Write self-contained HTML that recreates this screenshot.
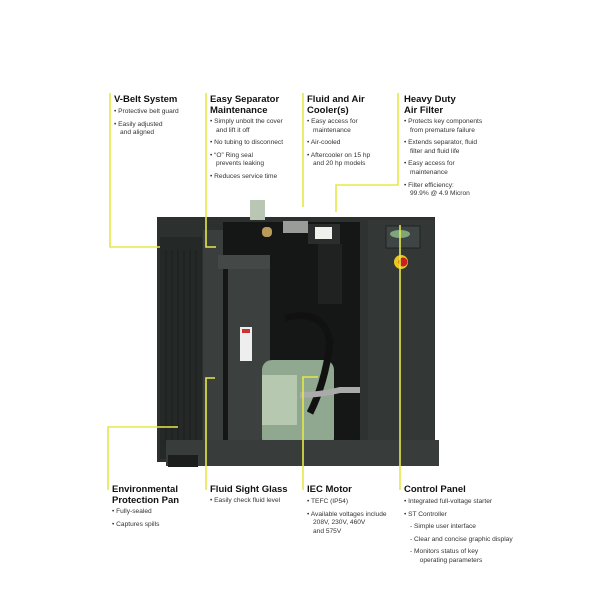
<!DOCTYPE html>
<html><head><meta charset="utf-8"><style>
body{margin:0;width:600px;height:600px;background:#fff;position:relative;overflow:hidden;font-family:"Liberation Sans",sans-serif;color:#222}
.t{position:absolute;font-weight:bold;font-size:9.5px;line-height:11px;color:#111}
.b{position:absolute;font-size:6.6px;line-height:8.6px;color:#333}
.b p{margin:0 0 4px 0;padding-left:6px;text-indent:-6px}
svg{position:absolute;left:0;top:0}
</style></head><body>
<svg width="600" height="600">
<!-- machine -->
<rect x="157" y="217" width="278" height="245" fill="#2c302f"/>
<rect x="160" y="237" width="42" height="222" fill="#242827"/>
<g stroke="#1b1e1d" stroke-width="1">
<line x1="166" y1="250" x2="166" y2="445"/><line x1="172" y1="250" x2="172" y2="445"/><line x1="178" y1="250" x2="178" y2="445"/><line x1="184" y1="250" x2="184" y2="445"/><line x1="190" y1="250" x2="190" y2="445"/><line x1="196" y1="250" x2="196" y2="445"/>
</g>
<rect x="203" y="230" width="20" height="225" fill="#3a3f3d"/>
<rect x="223" y="222" width="145" height="240" fill="#151716"/>
<rect x="228" y="260" width="42" height="200" fill="#3c4140"/>
<rect x="218" y="255" width="52" height="14" fill="#444948"/>
<rect x="262" y="360" width="72" height="88" fill="#8fa88f" rx="10"/>
<rect x="262" y="375" width="35" height="50" fill="#b6c8b0"/>
<rect x="308" y="224" width="32" height="20" fill="#2a2d2c"/>
<rect x="315" y="227" width="17" height="12" fill="#f0f0ec"/>
<rect x="318" y="244" width="24" height="60" fill="#1f2221"/>
<rect x="283" y="221" width="25" height="12" fill="#9a9c9a"/>
<rect x="250" y="200" width="15" height="20" fill="#b9c6b4"/>
<rect x="262" y="227" width="10" height="10" fill="#b89a5a" rx="4"/>
<rect x="240" y="327" width="12" height="34" fill="#eee"/>
<rect x="242" y="329" width="8" height="4" fill="#c33"/>
<path d="M285 318 q40 -10 45 25 q-5 40 -20 70" stroke="#111" stroke-width="7" fill="none"/>
<path d="M300 395 q20 0 40 -5 l28 0" stroke="#aaa" stroke-width="6" fill="none"/>
<rect x="360" y="218" width="75" height="244" fill="#2e3231"/>
<rect x="368" y="220" width="66" height="238" fill="#333736"/>
<rect x="386" y="226" width="34" height="22" fill="#3e4645" stroke="#222"/>
<ellipse cx="400" cy="234" rx="10" ry="4" fill="#7fa67a"/>
<circle cx="401" cy="262" r="7" fill="#e8c81c"/>
<circle cx="403" cy="262" r="4.5" fill="#c8201c"/>
<rect x="166" y="440" width="273" height="26" fill="#383c3b"/>
<rect x="168" y="455" width="30" height="12" fill="#1c1e1d"/>
<!-- yellow leaders -->
<g stroke="#e6e84a" stroke-width="1.6" fill="none">
<path d="M110 93 V247 H160"/>
<path d="M206 93 V247 H216"/>
<path d="M303 93 V207"/>
<path d="M398 93 V185 H336 V212"/>
<path d="M108 490 V427 H178"/>
<path d="M206 490 V378 H215"/>
<path d="M303 490 V377 H318"/>
<path d="M400 490 V225"/>
</g>
</svg>
<div class="t" style="left:114px;top:94px">V-Belt System</div>
<div class="b" style="left:114px;top:108px"><p>• Protective belt guard</p><p>• Easily adjusted<br>and aligned</p></div>
<div class="t" style="left:210px;top:94px">Easy Separator<br>Maintenance</div>
<div class="b" style="left:210px;top:118px"><p>• Simply unbolt the cover<br>and lift it off</p><p>• No tubing to disconnect</p><p>• “O” Ring seal<br>prevents leaking</p><p>• Reduces service time</p></div>
<div class="t" style="left:307px;top:94px">Fluid and Air<br>Cooler(s)</div>
<div class="b" style="left:307px;top:118px"><p>• Easy access for<br>maintenance</p><p>• Air-cooled</p><p>• Aftercooler on 15 hp<br>and 20 hp models</p></div>
<div class="t" style="left:404px;top:94px">Heavy Duty<br>Air Filter</div>
<div class="b" style="left:404px;top:118px"><p>• Protects key components<br>from premature failure</p><p>• Extends separator, fluid<br>filter and fluid life</p><p>• Easy access for<br>maintenance</p><p>• Filter efficiency:<br>99.9% @ 4.9 Micron</p></div>
<div class="t" style="left:112px;top:484px">Environmental<br>Protection Pan</div>
<div class="b" style="left:112px;top:508px"><p>• Fully-sealed</p><p>• Captures spills</p></div>
<div class="t" style="left:210px;top:484px">Fluid Sight Glass</div>
<div class="b" style="left:210px;top:497px"><p>• Easily check fluid level</p></div>
<div class="t" style="left:307px;top:484px">IEC Motor</div>
<div class="b" style="left:307px;top:498px"><p>• TEFC (IP54)</p><p>• Available voltages include<br>208V, 230V, 460V<br>and 575V</p></div>
<div class="t" style="left:404px;top:484px">Control Panel</div>
<div class="b" style="left:404px;top:498px"><p>• Integrated full-voltage starter</p><p>• ST Controller</p><p style="padding-left:12px">- Simple user interface</p><p style="padding-left:12px">- Clear and concise graphic display</p><p style="padding-left:12px">- Monitors status of key<br>&nbsp;&nbsp;operating parameters</p></div>
</body></html>
